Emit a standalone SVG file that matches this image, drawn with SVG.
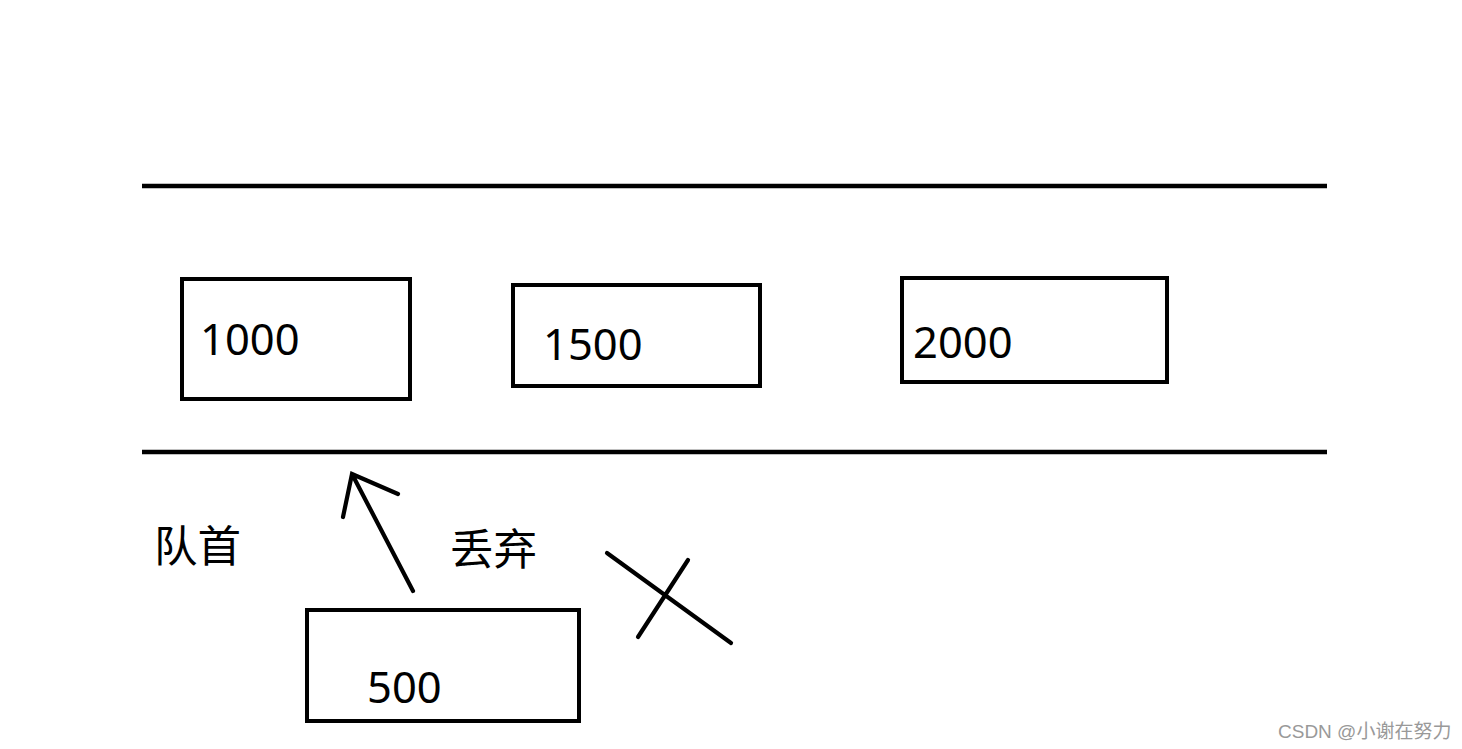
<svg xmlns="http://www.w3.org/2000/svg" width="1462" height="749" viewBox="0 0 1462 749">
<style>
.box{fill:none;stroke:#000;stroke-width:4}
.ln{stroke:#000;stroke-width:4.2;stroke-linecap:round;fill:none}
.rail{stroke:#000;stroke-width:4.5}
.t{font-family:"Noto Sans","Noto Sans CJK SC",sans-serif;font-size:43.5px;fill:#000}
.wm{font-family:"Liberation Sans","Noto Sans CJK SC",sans-serif;font-size:19px;fill:#999}
</style>
<rect width="1462" height="749" fill="#fff"/>
<g id="rails">
<line class="rail" x1="142" y1="186" x2="1327" y2="186"/>
<line class="rail" x1="142" y1="452" x2="1327" y2="452"/>
</g>
<g id="n1000"><rect class="box" x="182" y="279" width="228" height="120"/><text class="t" x="200" y="355">1000</text></g>
<g id="n1500"><rect class="box" x="513" y="285" width="247" height="101"/><text class="t" x="543" y="360">1500</text></g>
<g id="n2000"><rect class="box" x="902" y="278" width="265" height="104"/><text class="t" x="913" y="358">2000</text></g>
<g id="n500"><rect class="box" x="307" y="610" width="272" height="111"/><text class="t" x="367" y="703">500</text></g>
<g id="lbl-head"><text class="t" x="154" y="562">队首</text></g>
<g id="lbl-drop"><text class="t" x="450" y="565">丢弃</text></g>
<g id="connectors">
<path class="ln" d="M413,591 L352,474 M343,517 L352,474 L398,494"/>
<path class="ln" d="M607,553 L731,643 M688,560 L638,637"/>
</g>
<text class="wm" x="1278" y="738">CSDN @小谢在努力</text>
</svg>
